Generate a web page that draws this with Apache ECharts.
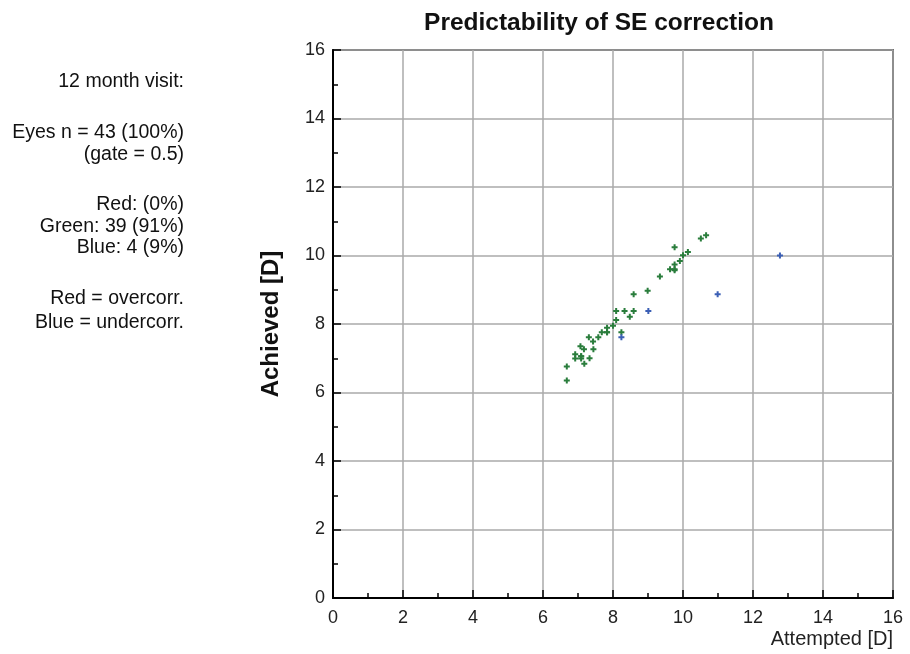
<!DOCTYPE html>
<html><head><meta charset="utf-8">
<script src="https://cdn.jsdelivr.net/npm/echarts@6/dist/echarts.min.js"></script>
<style>html,body{margin:0;padding:0;background:#fff}#c{width:910px;height:654px}</style>
</head><body><div id="c"></div>
<script>
const greenX = [6.68,6.68,6.92,6.92,7.09,7.09,7.07,7.17,7.18,7.33,7.31,7.43,7.44,7.58,7.68,7.83,7.83,8.00,8.09,8.09,8.24,8.33,8.48,8.59,8.59,8.99,9.34,9.63,9.76,9.76,9.91,10.00,10.14,9.76,10.51,10.66,7.09,7.83,9.76];
const greenY = [6.35,6.76,7.12,6.99,7.06,6.99,7.35,7.26,6.84,7.00,7.61,7.49,7.26,7.61,7.76,7.76,7.89,7.95,8.12,8.38,7.76,8.38,8.21,8.38,8.87,8.97,9.39,9.60,9.57,9.74,9.84,10.01,10.10,10.24,10.50,10.59,7.06,7.76,9.60];
const blueX = [8.24,9.01,10.99,12.77];
const blueY = [7.61,8.38,8.87,10.00];
const xTicks = [0,2,4,6,8,10,12,14,16];
const yTicks = [0,2,4,6,8,10,12,14,16];
const titleText = 'Predictability of SE correction';
const infoLines = [
  ["12 month visit:", 82],
  ["Eyes n = 43 (100%)", 133],
  ["(gate = 0.5)", 155],
  ["Red: (0%)", 205],
  ["Green: 39 (91%)", 227],
  ["Blue: 4 (9%)", 248],
  ["Red = overcorr.", 299],
  ["Blue = undercorr.", 323]
];
const FONT = '"Liberation Sans", Arial, sans-serif';
const plus = 'path://M2,0H4V2H6V4H4V6H2V4H0V2H2Z';
const chart = echarts.init(document.getElementById('c'));
chart.setOption({
  animation:false,
  backgroundColor:'#fff',
  grid:{left:333, right:17, top:50, bottom:56, show:true, borderColor:'#000', borderWidth:1.5, backgroundColor:'transparent'},
  xAxis:{type:'value', min:0, max:16, interval:2,
    name:'Attempted [D]', nameLocation:'end', nameGap:0,
    nameTextStyle:{fontFamily:FONT, fontSize:20, color:'#222', align:'right', verticalAlign:'top', padding:[31,0,0,0]},
    axisLine:{show:true, onZero:false, lineStyle:{color:'#000', width:2}},
    axisTick:{show:true, inside:true, length:8, lineStyle:{color:'#000', width:1.5}},
    minorTick:{show:true, splitNumber:2, length:5, lineStyle:{color:'#000', width:1.5}},
    axisLabel:{fontFamily:FONT, fontSize:18, color:'#222', margin:11,
      formatter:v=> xTicks.includes(v)? String(v):''},
    splitLine:{show:true, lineStyle:{color:'#aaa', width:1.5}}},
  yAxis:{type:'value', min:0, max:16, interval:2,
    name:'Achieved [D]', nameLocation:'middle', nameGap:50, nameRotate:90,
    nameTextStyle:{fontFamily:FONT, fontSize:24, fontWeight:'bold', color:'#111'},
    axisLine:{show:true, onZero:false, lineStyle:{color:'#000', width:2}},
    axisTick:{show:true, inside:true, length:8, lineStyle:{color:'#000', width:1.5}},
    minorTick:{show:true, splitNumber:2, length:5, lineStyle:{color:'#000', width:1.5}},
    axisLabel:{fontFamily:FONT, fontSize:18, color:'#222', margin:8,
      formatter:v=> yTicks.includes(v)? String(v):''},
    splitLine:{show:true, lineStyle:{color:'#aaa', width:1.5}}},
  graphic: [
    {type:'text', x:599, y:23, style:{text:titleText, fontFamily:FONT, fontSize:24.5, fontWeight:'bold',
      fill:'#111', textAlign:'center', textVerticalAlign:'middle'}}
  ].concat(infoLines.map(([t,y])=>({type:'text', x:184, y:y,
    style:{text:t, fontFamily:FONT, fontSize:19.5, fill:'#111', textAlign:'right', textVerticalAlign:'middle'}}))),
  series:[
    {type:'scatter', data:greenX.map((x,i)=>[x,greenY[i]]), symbol:plus, symbolSize:6,
      itemStyle:{color:'#2a7d3c', opacity:1}},
    {type:'scatter', data:blueX.map((x,i)=>[x,blueY[i]]), symbol:plus, symbolSize:6,
      itemStyle:{color:'#3b5fb5', opacity:1}}
  ]
});
</script></body></html>
